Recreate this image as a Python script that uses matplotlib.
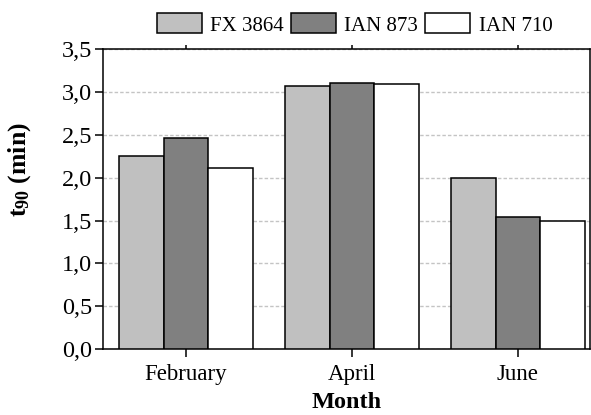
import numpy as np
import matplotlib
matplotlib.use('Agg')
import matplotlib.pyplot as plt

# Datos: t90 por mes para cada clon
meses = ['February', 'April', 'June']
clones = ['FX 3864', 'IAN 873', 'IAN 710']
fx_3864 = [2.26, 3.07, 2.00]
ian_873 = [2.46, 3.11, 1.545]
ian_710 = [2.11, 3.10, 1.49]
yticks = [0.0, 0.5, 1.0, 1.5, 2.0, 2.5, 3.0, 3.5]
ytick_labels = ['0,0', '0,5', '1,0', '1,5', '2,0', '2,5', '3,0', '3,5']

plt.rcParams['font.family'] = ['Liberation Serif', 'DejaVu Serif']
plt.rcParams['mathtext.fontset'] = 'custom'
plt.rcParams['mathtext.rm'] = 'Liberation Serif'
plt.rcParams['mathtext.bf'] = 'Liberation Serif:bold'

fig = plt.figure(figsize=(5.91, 4.15), dpi=100)
ax = fig.add_axes([0.1743, 0.159, 0.8237, 0.722])

x = np.arange(len(meses))
ancho = 0.268
colores = ['#c0c0c0', '#808080', '#ffffff']
series = [fx_3864, ian_873, ian_710]

for i, (serie, color, nombre) in enumerate(zip(series, colores, clones)):
    ax.bar(x + (i - 1) * ancho, serie, ancho, color=color, edgecolor='black',
           linewidth=1.1, label=nombre, zorder=3)

ax.set_xlim(-0.5, 2.434)
ax.set_ylim(0, 3.5)
ax.set_xticks(x)
ax.set_xticklabels(meses, fontsize=16.5)
ax.set_yticks(yticks)
ax.set_yticklabels(ytick_labels, fontsize=17.5)

# lineas de la rejilla punteadas en gris claro
ax.yaxis.grid(True, linestyle=(0, (2.5, 1.5)), color='#c4c4c4', linewidth=1.0, zorder=0)
ax.set_axisbelow(True)

for lado in ['left', 'bottom', 'top', 'right']:
    ax.spines[lado].set_linewidth(1.1)

ax.tick_params(axis='both', direction='out', length=6, width=1.1, pad=2)
ax.tick_params(axis='x', top=True, pad=5)
# marcas pequenas hacia dentro en el borde superior
for t in ax.xaxis.get_major_ticks():
    t.tick2line.set_markersize(3)
    t.tick2line.set_marker(2)

ax.set_xlabel('Month', fontsize=17.5, fontweight='bold', labelpad=5)
ax.set_ylabel(r'$\mathbf{t_{90}}$ (min)', fontsize=18.5, fontweight='bold')
ax.yaxis.set_label_coords(-0.143, 0.597)

fig.legend(loc='center', bbox_to_anchor=(0.6, 0.941), ncol=3, frameon=False,
           fontsize=15, handlelength=2.15, handleheight=1.1,
           handletextpad=0.4, columnspacing=0.35, borderaxespad=0)

plt.savefig('out.png', dpi=100)
